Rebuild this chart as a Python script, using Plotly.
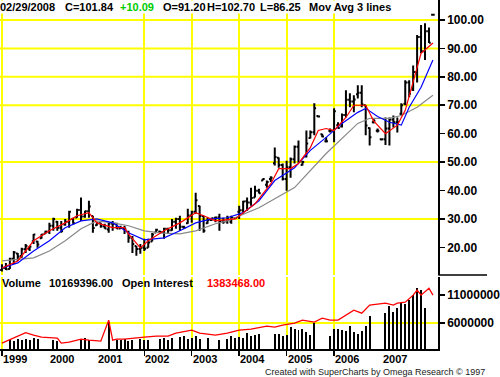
import plotly.graph_objects as go

W, H = 500, 377
def py(px):
    return 1 - px / H

# ---------------- data ----------------
year_labels = ["1999", "2000", "2001", "2002", "2003", "2004", "2005", "2006", "2007"]
year_months = [0, 12, 24, 36, 48, 60, 72, 84, 96]
grid_months = [0, 36, 48, 60, 72, 84]
price_grid_levels = [30, 50, 70, 80, 90, 100]

months = list(range(110))
opens = [12.05, 12.70, 12.40, 16.00, 17.80, 16.90, 19.30, 19.50, 22.10, 22.00, 23.20, 24.80,
         25.60, 27.60, 29.00, 26.90, 28.00, 29.00, 30.00, 30.50, 33.10, 30.80, 32.70, 31.00,
         27.80, 28.50, 27.40, 26.30, 28.40, 28.30, 26.60, 26.80, 25.50, 23.40, 20.50, 19.40,
         19.80, 19.80, 22.00, 25.20, 25.60, 25.30, 26.50, 26.00, 29.00, 30.00, 27.20, 28.50,
         31.20, 32.50, 34.50, 31.00, 28.50, 29.60, 30.20, 30.50, 29.20, 29.10, 29.00, 30.20,
         32.5, 33.0, 36.2, 35.8, 37.5, 39.9, 43.5, 42.0, 44.0, 49.6, 51.5, 49.0,
         44.0, 48.2, 51.0, 55.4, 49.0, 52.0, 58.5, 60.5, 66.2, 59.8, 57.3, 61.0,
         61.0, 63.0, 62.5, 66.6, 71.9, 71.3, 73.9, 74.4, 70.0, 62.0, 64.0, 61.0,
         58.0, 58.0, 61.8, 65.0, 64.0, 67.0, 70.5, 78.0, 75.5, 81.7, 94.0, 89.0,
         96.0, 101.84]
highs = [14.00, 14.50, 16.30, 18.70, 18.00, 19.80, 21.20, 20.50, 24.70, 22.30, 24.70, 25.80,
         28.60, 30.40, 29.30, 29.30, 30.00, 32.90, 30.40, 33.60, 37.50, 32.90, 36.40, 31.10,
         28.60, 28.60, 28.30, 28.60, 29.30, 28.60, 27.60, 27.60, 25.80, 24.00, 20.50, 21.20,
         23.00, 23.00, 25.00, 26.50, 25.80, 26.90, 26.90, 30.00, 30.40, 31.10, 27.60, 33.60,
         32.90, 39.20, 34.60, 31.10, 30.40, 30.40, 30.80, 31.80, 30.40, 31.10, 31.10, 30.40,
         34.6, 36.4, 37.5, 41.0, 41.7, 40.6, 44.2, 43.5, 45.0, 55.1, 51.6, 49.5,
         50.5, 51.6, 55.8, 57.6, 50.5, 61.1, 61.1, 70.7, 66.4, 60.0, 58.7, 61.8,
         68.9, 64.0, 67.1, 75.3, 74.2, 73.5, 77.0, 77.0, 70.0, 62.2, 65.4, 61.8,
         58.3, 65.7, 65.7, 66.4, 65.7, 70.7, 78.8, 78.8, 84.0, 94.7, 98.2, 98.9,
         97.4, 101.84]
lows = [11.50, 12.00, 12.40, 14.10, 15.20, 16.30, 18.00, 18.70, 21.20, 19.80, 23.00, 24.70,
        24.70, 25.80, 25.80, 25.10, 27.60, 26.90, 28.30, 30.40, 29.30, 30.40, 30.40, 25.10,
        27.60, 26.90, 26.50, 25.10, 25.80, 26.50, 26.50, 24.70, 21.60, 18.00, 17.00, 17.70,
        18.70, 19.80, 22.00, 25.10, 25.10, 23.00, 24.70, 25.80, 26.50, 25.80, 26.50, 28.30,
        28.60, 31.80, 25.80, 25.10, 28.30, 29.30, 28.80, 25.80, 28.30, 28.30, 28.30, 30.00,
        30.0, 31.8, 32.9, 34.6, 37.5, 38.9, 43.5, 41.0, 43.0, 48.8, 48.0, 43.5,
        39.9, 44.5, 49.5, 49.8, 48.8, 51.6, 58.3, 59.4, 65.7, 58.7, 56.9, 60.4,
        57.0, 61.8, 62.2, 65.7, 69.3, 67.5, 72.4, 69.3, 59.4, 55.8, 63.6, 60.4,
        57.6, 56.0, 55.8, 62.2, 60.4, 66.4, 70.0, 72.8, 75.0, 78.0, 88.3, 85.9,
        91.9, 101.84]
closes = [12.75, 12.27, 16.00, 18.20, 16.80, 19.30, 20.50, 20.30, 24.50, 21.00, 24.50, 25.60,
          27.60, 30.00, 26.90, 25.70, 29.00, 32.50, 28.50, 33.10, 30.80, 32.70, 34.40, 26.80,
          28.50, 27.40, 26.60, 28.40, 28.30, 26.60, 26.80, 26.50, 23.40, 21.20, 19.40, 19.80,
          19.50, 21.70, 24.50, 26.20, 25.30, 26.50, 26.00, 29.00, 30.00, 27.20, 26.90, 31.20,
          32.50, 36.60, 31.00, 25.80, 29.60, 30.20, 30.50, 29.20, 29.10, 30.40, 30.40, 30.30,
          33.05, 36.16, 35.76, 37.38, 39.88, 39.0, 44.0, 43.0, 44.5, 51.76, 49.0, 44.0,
          48.2, 51.0, 55.4, 50.0, 50.0, 56.5, 60.5, 68.9, 66.0, 59.0, 57.3, 61.0,
          67.9, 62.0, 66.6, 71.9, 71.3, 72.0, 74.4, 70.3, 62.9, 58.7, 64.5, 61.0,
          58.0, 61.8, 65.0, 64.0, 64.0, 70.0, 78.0, 74.0, 81.7, 94.0, 89.0, 96.0,
          92.0, 101.84]

ma_red_m = [0, 4, 8, 12, 16, 19, 22, 24, 28, 31, 32, 35, 37, 41, 45, 49, 51, 54, 59, 64, 68, 70, 73, 75, 78, 80, 82, 84, 87, 89, 92, 94, 97, 100, 102, 105, 106, 109]
ma_red_v = [12.7, 15.2, 22.3, 25.8, 28.6, 31.1, 32.2, 28.6, 26.9, 26.9, 24.7, 19.8, 22.3, 25.8, 28.6, 32.2, 31.1, 29.3, 30.0, 35.3, 42.4, 47.7, 47.7, 49.5, 55.1, 61.1, 61.8, 61.1, 65.7, 70.0, 70.0, 64.5, 60.0, 63.0, 68.2, 83.4, 88.3, 91.9]
ma_blue_m = [0, 4, 8, 12, 16, 20, 24, 28, 32, 36, 41, 45, 49, 53, 57, 61, 65, 69, 74, 78, 82, 86, 90, 92, 95, 98, 101, 103, 106, 109]
ma_blue_v = [12.7, 14.5, 18.7, 22.3, 26.9, 29.3, 30.0, 28.6, 25.1, 22.6, 23.3, 25.8, 28.6, 30.0, 30.4, 32.2, 36.4, 43.5, 48.0, 54.1, 58.7, 63.6, 67.5, 68.9, 66.0, 64.0, 63.0, 69.3, 76.3, 85.9]
ma_gray_m = [0, 8, 12, 16, 20, 24, 28, 32, 36, 40, 45, 49, 54, 57, 65, 74, 82, 90, 93, 98, 101, 105, 109]
ma_gray_v = [15.2, 16.3, 18.7, 22.3, 26.5, 29.3, 28.6, 27.6, 25.8, 25.1, 24.7, 25.8, 28.3, 29.3, 33.9, 41.0, 53.0, 63.6, 65.4, 65.4, 66.4, 69.3, 73.5]

volume = [None, None, 3.0, 2.8, 3.1, 3.0, 3.2, 3.0, 3.3, 3.1, None, None,
          None, 3.0, 2.8, None, None, None, None, None, 3.1, 3.3, 3.0, None,
          None, None, None, 6.2, None, 3.0, 2.9, 3.1, 2.8, 3.0, None, 3.2,
          3.0, 2.9, None, None, 3.2, 3.4, 3.0, 3.3, None, 3.5, 3.6, 3.2,
          3.4, 3.7, 3.1, None, 3.3, None, None, 3.0, None, 3.2, 3.6, 3.4,
          3.5, 3.4, 4.2, 3.6, 3.8, 4.0, None, None, None, 4.0, 4.0, 3.6,
          3.8, 5.3, 5.0, 4.8, 5.0, 4.4, 3.8, 6.0, None, None, None, 3.6,
          5.0, 5.0, 4.8, 4.6, 5.4, 4.4, 4.0, 4.6, 5.4, 7.2, None, None,
          None, 7.8, 9.0, 8.0, 8.6, 9.6, 9.4, 10.1, 11.0, 12.2, 11.9, 8.7,
          None, None]
volume = [v * 1e6 if v is not None else None for v in volume]

oi_m = [0, 6, 8, 10, 14, 15, 17, 20, 22, 25, 27, 28, 29, 31, 36, 39, 42, 44, 48, 50, 54, 57, 60, 63, 67, 69, 71, 74, 76, 79, 81, 83, 85, 87, 89, 91, 93, 97, 99, 100, 102, 104, 105, 106, 108, 109]
oi_v = [0.42, 0.63, 0.58, 0.54, 0.52, 0.42, 0.44, 0.50, 0.48, 0.46, 0.88, 0.48, 0.50, 0.50, 0.54, 0.56, 0.56, 0.62, 0.68, 0.62, 0.58, 0.62, 0.68, 0.70, 0.76, 0.74, 0.78, 0.82, 0.88, 0.84, 0.92, 0.88, 0.88, 0.98, 1.08, 1.02, 1.18, 1.22, 1.18, 1.22, 1.24, 1.38, 1.48, 1.38, 1.52, 1.38]
oi_v = [v * 1e6 for v in oi_v]

# ---------------- figure ----------------
fig = go.Figure()
fig.add_trace(go.Ohlc(x=months, open=opens, high=highs, low=lows, close=closes,
                      increasing=dict(line=dict(color="black", width=2)),
                      decreasing=dict(line=dict(color="black", width=2)),
                      tickwidth=0.45, xaxis="x", yaxis="y", hoverinfo="skip",
                      showlegend=False))
for mx, mv, col in [(ma_gray_m, ma_gray_v, "#888888"),
                    (ma_blue_m, ma_blue_v, "#0000ff"),
                    (ma_red_m, ma_red_v, "#ff0000")]:
    fig.add_trace(go.Scatter(x=mx, y=mv, mode="lines", line=dict(color=col, width=1.2),
                             xaxis="x", yaxis="y", hoverinfo="skip", showlegend=False))

fig.add_trace(go.Bar(x=months, y=volume, marker=dict(color="black", line=dict(width=0)),
                     width=0.5, xaxis="x2", yaxis="y2", hoverinfo="skip", showlegend=False))
fig.add_trace(go.Scatter(x=oi_m, y=oi_v, mode="lines", line=dict(color="#ff0000", width=1.3),
                         xaxis="x2", yaxis="y3", hoverinfo="skip", showlegend=False))

xr = [-0.493, 110.36]
bold12 = dict(family="Liberation Sans", size=12, color="black", weight="bold")

fig.update_layout(
    width=W, height=H, margin=dict(l=0, r=0, t=0, b=0),
    paper_bgcolor="white", plot_bgcolor="white",
    showlegend=False, bargap=0,
    xaxis=dict(domain=[0, 0.9], range=xr, anchor="y", showticklabels=False,
               tickmode="array", tickvals=grid_months, showgrid=True,
               gridcolor="#ffff00", gridwidth=2, zeroline=False, showline=False,
               ticks="", rangeslider=dict(visible=False), fixedrange=True),
    xaxis2=dict(domain=[0, 0.9], range=xr, anchor="y2", matches="x", showticklabels=False,
                tickmode="array", tickvals=grid_months, showgrid=True,
                gridcolor="#ffff00", gridwidth=2, zeroline=False,
                showline=True, linecolor="black", linewidth=1.5,
                ticks="outside", ticklen=5, tickcolor="black", tickwidth=1.5),
    yaxis=dict(domain=[py(275), 1], range=[10.25, 107.04], anchor="x", side="right",
               tickmode="array", tickvals=[20, 30, 40, 50, 60, 70, 80, 90, 100],
               ticktext=["20.00", "30.00", "40.00", "50.00", "60.00", "70.00", "80.00", "90.00", "100.00"],
               ticks="outside", ticklen=5, tickcolor="black", tickwidth=1.5,
               showline=True, linecolor="black", linewidth=1.5, showgrid=False,
               zeroline=False, tickfont=bold12),
    yaxis2=dict(domain=[py(349), py(277)], range=[1.357e6, 14.21e6], anchor="x2", side="right",
                tickmode="array", tickvals=[6e6, 11e6], ticktext=["6000000", "11000000"],
                ticks="outside", ticklen=5, tickcolor="black", tickwidth=1.5,
                showline=True, linecolor="black", linewidth=1.5, showgrid=False,
                zeroline=False, tickfont=bold12),
    yaxis3=dict(domain=[py(349), py(277)], range=[0.303e6, 1.743e6], overlaying="y2",
                visible=False),
)

shapes = []
for lvl in price_grid_levels:
    shapes.append(dict(type="line", xref="x domain", yref="y", x0=0, x1=1, y0=lvl, y1=lvl,
                       line=dict(color="#ffff00", width=2), layer="below"))
shapes.append(dict(type="line", xref="x2 domain", yref="y2", x0=0, x1=1, y0=6e6, y1=6e6,
                   line=dict(color="#ffff00", width=2), layer="below"))
shapes.append(dict(type="line", xref="paper", yref="paper", x0=0.9, x1=1, y0=py(275), y1=py(275),
                   line=dict(color="black", width=1.5)))
fig.update_layout(shapes=shapes)

ann = []
def txt(x, y, s, color="black", size=11, bold=True, bg=None, anchor="left", family="Liberation Sans"):
    d = dict(x=x / W, y=py(y), xref="paper", yref="paper", xanchor=anchor, yanchor="middle",
             text=("<b>%s</b>" % s) if bold else s, showarrow=False,
             font=dict(family=family, size=size, color=color), borderpad=0)
    if bg:
        d["bgcolor"] = bg
    ann.append(d)

txt(-1, 7.5, "02/29/2008", bg="white")
txt(66, 7.5, "C=101.84", bg="white")
txt(122, 7.5, "+10.09", color="#00cc00", bg="white")
txt(166, 7.5, "O=91.20", bg="white")
txt(211, 7.5, "H=102.70", bg="white")
txt(266, 7.5, "L=86.25", bg="white")
txt(316, 7.5, "Mov Avg 3 lines", bg="white")

txt(1, 282.5, "Volume")
txt(49, 282.5, "10169396.00")
txt(124, 282.5, "Open Interest")
txt(211, 282.5, "1383468.00", color="#ff0000")

for lab, m in zip(year_labels, year_months):
    ann.append(dict(x=m, y=py(359), xref="x2", yref="paper", xanchor="left", yanchor="middle",
                    text="<b>%s</b>" % lab, showarrow=False, xshift=0,
                    font=dict(family="Liberation Sans", size=11, color="black"), borderpad=0))

txt(499, 371.5, "Created with SuperCharts by Omega Research \u00a9 1997", color="#222222",
    size=9, bold=False, anchor="right")

fig.update_layout(annotations=ann)
fig.write_html("out.html", config={"displayModeBar": False, "staticPlot": True},
               post_script="document.body.style.margin='0px';")
